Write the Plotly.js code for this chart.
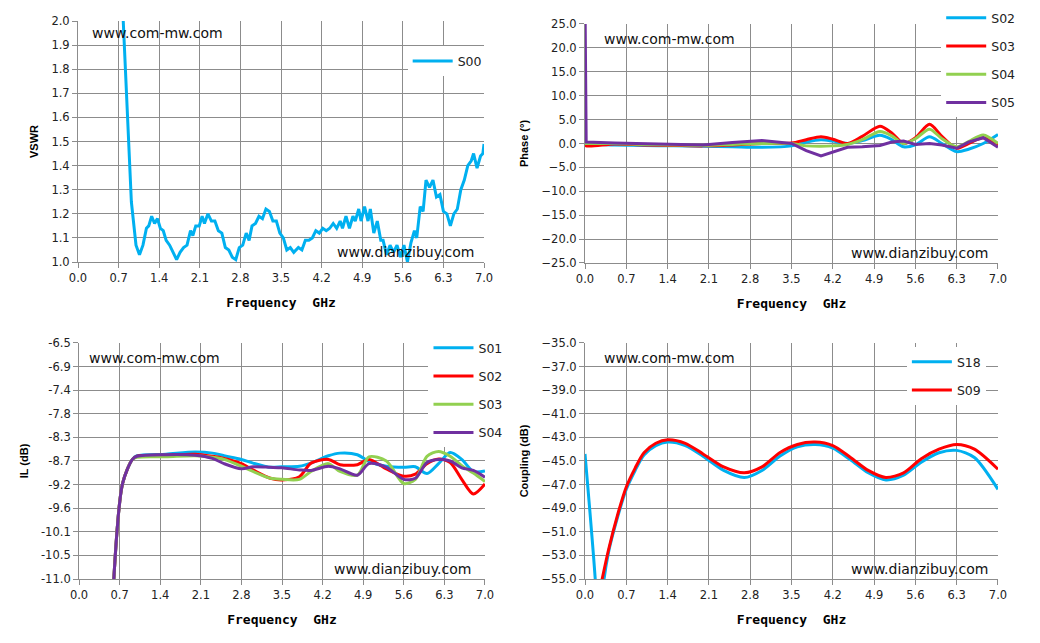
<!DOCTYPE html>
<html>
<head>
<meta charset="utf-8">
<script src="https://cdn.plot.ly/plotly-3.0.1.min.js"></script>
<style>body{margin:0;background:#fff}#chart{width:1040px;height:643px}</style>
</head>
<body>
<div id="chart"></div>
<script>
// VSWR (top left)
const vsFreq = [0.78,0.85,0.92,1.0,1.06,1.12,1.18,1.22,1.27,1.32,1.37,1.42,1.47,1.52,1.58,1.64,1.70,1.76,1.82,1.88,1.94,1.98,2.03,2.09,2.14,2.18,2.24,2.30,2.36,2.42,2.48,2.54,2.60,2.66,2.72,2.78,2.84,2.90,2.95,3.0,3.06,3.12,3.18,3.24,3.30,3.36,3.42,3.48,3.54,3.60,3.66,3.72,3.80,3.86,3.92,3.98,4.04,4.10,4.16,4.22,4.28,4.34,4.40,4.46,4.52,4.56,4.62,4.68,4.74,4.78,4.84,4.88,4.94,5.0,5.04,5.10,5.16,5.22,5.26,5.32,5.38,5.44,5.50,5.56,5.62,5.68,5.74,5.80,5.84,5.90,5.95,6.0,6.06,6.12,6.18,6.24,6.30,6.36,6.42,6.48,6.54,6.60,6.66,6.72,6.78,6.82,6.88,6.94,6.98,7.0];
const vsS00 = [2.0,1.6,1.25,1.07,1.03,1.07,1.14,1.15,1.19,1.16,1.18,1.14,1.13,1.09,1.07,1.04,1.01,1.04,1.06,1.07,1.13,1.11,1.15,1.15,1.19,1.16,1.20,1.17,1.17,1.13,1.12,1.06,1.05,1.02,1.01,1.06,1.07,1.12,1.09,1.15,1.16,1.19,1.18,1.22,1.21,1.17,1.17,1.12,1.10,1.05,1.06,1.04,1.06,1.05,1.09,1.09,1.10,1.13,1.12,1.14,1.13,1.14,1.16,1.14,1.17,1.14,1.19,1.14,1.19,1.17,1.22,1.17,1.23,1.17,1.22,1.12,1.17,1.09,1.09,1.03,1.07,1.04,1.07,1.02,1.07,1.00,1.08,1.13,1.10,1.23,1.21,1.34,1.31,1.34,1.27,1.28,1.21,1.20,1.15,1.20,1.22,1.30,1.34,1.40,1.42,1.45,1.39,1.44,1.45,1.49];

// Phase (top right)
const phFreq = [0,0.02,0.5,1,1.5,2,2.5,3,3.5,3.75,4,4.2,4.45,4.7,5,5.2,5.4,5.6,5.84,6.05,6.3,6.5,6.75,7.0];
const phS02 = [-0.3,-0.2,-0.3,-0.4,-0.5,-0.6,-0.7,-0.8,-0.5,0.3,0.8,0.5,0,0.6,1.7,0.8,-0.7,-0.3,1.4,0,-1.7,-1.2,0,1.9];
const phS03 = [0,-0.5,-0.1,-0.3,-0.4,-0.5,-0.3,0,0.1,0.8,1.4,0.9,0,1.5,3.6,2.2,0,1.2,4.0,1.5,-1.0,0,1.2,-0.3];
const phS04 = [0,0,0,-0.2,-0.3,-0.4,-0.2,0,0,-0.5,-0.6,-0.5,-0.2,0.8,2.5,1.6,0,1.0,3.0,1.0,-0.7,0.4,1.8,0];
const phS05 = [30,0.3,0.1,0,-0.2,-0.3,0.2,0.6,0,-1.5,-2.6,-1.8,-0.8,-0.7,-0.4,0.3,0.5,-0.2,0,-0.3,-1.0,0.3,1.2,-0.8];

// Insertion loss (bottom left)
const ilFreq = [0.6,0.75,0.92,1.0,1.5,2.0,2.3,2.5,2.8,3.0,3.3,3.5,3.8,4.0,4.3,4.5,4.8,5.0,5.3,5.6,5.8,6.0,6.2,6.4,6.6,6.8,7.0];
const ilS01 = [-11,-9.18,-8.72,-8.65,-8.62,-8.58,-8.6,-8.65,-8.72,-8.79,-8.87,-8.86,-8.85,-8.79,-8.65,-8.6,-8.63,-8.76,-8.85,-8.87,-8.86,-8.99,-8.8,-8.59,-8.72,-8.95,-8.94];
const ilS02 = [-11,-9.18,-8.72,-8.66,-8.64,-8.62,-8.66,-8.7,-8.8,-8.92,-9.08,-9.11,-9.05,-8.79,-8.72,-8.82,-8.82,-8.72,-8.9,-9.04,-9.0,-8.8,-8.71,-8.78,-9.1,-9.38,-9.19];
const ilS03 = [-11,-9.18,-8.72,-8.68,-8.67,-8.65,-8.68,-8.72,-8.85,-8.95,-9.08,-9.1,-9.1,-8.95,-8.8,-8.95,-9.02,-8.67,-8.75,-9.18,-9.1,-8.66,-8.57,-8.66,-8.84,-8.98,-9.14];
const ilS04 = [-11,-9.18,-8.72,-8.66,-8.63,-8.64,-8.7,-8.8,-8.9,-8.86,-8.87,-8.88,-8.92,-8.93,-8.85,-8.9,-9.02,-8.8,-8.87,-9.1,-9.08,-8.78,-8.72,-8.75,-8.88,-8.93,-9.06];
const ilTicks = [-6.5,-6.95,-7.4,-7.85,-8.3,-8.75,-9.2,-9.65,-10.1,-10.55,-11.0];
const ilTickText = ['-6.5','-6.9','-7.4','-7.8','-8.3','-8.7','-9.2','-9.6','-10.1','-10.5','-11.0'];

// Coupling (bottom right)
const cpFreqS18 = [0,0.18,0.24,0.3,0.4,0.55,0.7,0.85,1.0,1.2,1.4,1.7,2.0,2.35,2.7,3.0,3.3,3.6,3.9,4.2,4.5,4.8,5.1,5.4,5.7,6.0,6.3,6.6,7.0];
const cpS18 = [-44.4,-55.5,-62,-56,-52.7,-49.8,-47.4,-45.8,-44.5,-43.7,-43.4,-43.7,-44.6,-45.8,-46.4,-45.8,-44.6,-43.8,-43.6,-43.9,-44.9,-46.0,-46.6,-46.2,-45.1,-44.3,-44.1,-44.7,-47.4];
const cpFreqS09 = [0.27,0.4,0.55,0.7,0.85,1.0,1.2,1.4,1.7,2.0,2.35,2.7,3.0,3.3,3.6,3.9,4.2,4.5,4.8,5.1,5.4,5.7,6.0,6.3,6.6,7.0];
const cpS09 = [-55.5,-52.5,-49.6,-47.2,-45.6,-44.3,-43.5,-43.2,-43.5,-44.4,-45.5,-46.0,-45.5,-44.3,-43.6,-43.4,-43.7,-44.7,-45.8,-46.4,-46.0,-44.8,-44.0,-43.6,-44.0,-45.7];

const freqTicks = [0,0.7,1.4,2.1,2.8,3.5,4.2,4.9,5.6,6.3,7.0];

const CYAN = '#00b0f0', RED = '#ff0000', GREEN = '#92d050', PURPLE = '#7030a0';
const tickFont = { family: 'DejaVu Sans, Verdana, sans-serif', size: 11.5, color: '#222' };
const titleFont = { family: 'Liberation Sans, Arial, sans-serif', size: 11, color: '#000', weight: 'bold' };
const freqTitleFont = { family: 'DejaVu Sans Mono, monospace', size: 13, color: '#000', weight: 'bold' };

function line(x, y, name, color, xa, ya, legend, shape) {
  return { x, y, name, type: 'scatter', mode: 'lines', xaxis: xa, yaxis: ya, legend,
    legendgroup: name + legend, line: { color, width: 3, shape: shape || 'spline', smoothing: 0.8 } };
}

const traces = [
  line(vsFreq, vsS00, 'S00', CYAN, 'x', 'y', 'legend', 'linear'),
  line(phFreq, phS02, 'S02', CYAN, 'x2', 'y2', 'legend2'),
  line(phFreq, phS03, 'S03', RED, 'x2', 'y2', 'legend2'),
  line(phFreq, phS04, 'S04', GREEN, 'x2', 'y2', 'legend2'),
  line(phFreq, phS05, 'S05', PURPLE, 'x2', 'y2', 'legend2', 'linear'),
  line(ilFreq, ilS01, 'S01', CYAN, 'x3', 'y3', 'legend3'),
  line(ilFreq, ilS02, 'S02', RED, 'x3', 'y3', 'legend3'),
  line(ilFreq, ilS03, 'S03', GREEN, 'x3', 'y3', 'legend3'),
  line(ilFreq, ilS04, 'S04', PURPLE, 'x3', 'y3', 'legend3'),
  line(cpFreqS18, cpS18, 'S18', CYAN, 'x4', 'y4', 'legend4'),
  line(cpFreqS09, cpS09, 'S09', RED, 'x4', 'y4', 'legend4')
];

function xAxis(domain, anchor) {
  return { domain, anchor, range: [0, 7], tickvals: freqTicks, ticktext: freqTicks.map(v => v.toFixed(1)),
    showgrid: true, gridcolor: '#8c8c8c', gridwidth: 1, showline: true, linecolor: '#8c8c8c',
    ticks: 'outside', ticklen: 5, tickcolor: '#8c8c8c', tickfont: tickFont, zeroline: false,
    title: { text: 'Frequency  GHz', font: freqTitleFont, standoff: 14 } };
}
function yAxis(domain, anchor, range, dtick, title) {
  return { domain, anchor, range, dtick, tick0: range[0], tickformat: '.1f',
    showgrid: true, gridcolor: '#8c8c8c', gridwidth: 1, showline: true, linecolor: '#8c8c8c',
    ticks: 'outside', ticklen: 5, tickcolor: '#8c8c8c', tickfont: tickFont, zeroline: false,
    title: { text: title, font: titleFont, standoff: 10 } };
}

const legendBase = { bgcolor: '#fff', borderwidth: 0, font: { family: 'DejaVu Sans, Verdana, sans-serif', size: 12.5, color: '#222' },
  xanchor: 'left', yanchor: 'top', tracegroupgap: 9, itemwidth: 40 };

function mark(xref, yref, x, y, text, xanchor, yanchor) {
  return { xref: xref + ' domain', yref: yref + ' domain', x, y, text, showarrow: false, xanchor, yanchor,
    font: { family: 'DejaVu Sans, Verdana, sans-serif', size: 14, color: '#111' } };
}

const ilAxis = yAxis([0.0995, 0.4666], 'x3', [-11, -6.5], 0.45, 'IL (dB)');
ilAxis.tickvals = ilTicks; ilAxis.ticktext = ilTickText;

const layout = {
  width: 1040, height: 643, margin: { l: 0, r: 0, t: 0, b: 0 },
  paper_bgcolor: '#fff', plot_bgcolor: '#fff', showlegend: true,
  xaxis: xAxis([0.075, 0.4654], 'y'),
  yaxis: yAxis([0.5925, 0.9673], 'x', [1, 2], 0.1, 'VSWR'),
  xaxis2: xAxis([0.5625, 0.9596], 'y2'),
  yaxis2: yAxis([0.591, 0.9627], 'x2', [-25, 25], 5, 'Phase (°)'),
  xaxis3: xAxis([0.076, 0.4663], 'y3'),
  yaxis3: ilAxis,
  xaxis4: xAxis([0.5625, 0.9596], 'y4'),
  yaxis4: yAxis([0.0995, 0.4666], 'x4', [-55, -35], 2, 'Coupling (dB)'),
  legend: Object.assign({}, legendBase, { x: 0.392, y: 0.928 }),
  legend2: Object.assign({}, legendBase, { x: 0.905, y: 0.995 }),
  legend3: Object.assign({}, legendBase, { x: 0.412, y: 0.482 }),
  legend4: Object.assign({}, legendBase, { x: 0.872, y: 0.46 }),
  annotations: [
    mark('x', 'y', 0.03, 0.99, 'www.com-mw.com', 'left', 'top'),
    mark('x', 'y', 0.98, 0.0, 'www.dianzibuy.com', 'right', 'bottom'),
    mark('x2', 'y2', 0.04, 0.98, 'www.com-mw.com', 'left', 'top'),
    mark('x2', 'y2', 0.98, 0.0, 'www.dianzibuy.com', 'right', 'bottom'),
    mark('x3', 'y3', 0.02, 0.98, 'www.com-mw.com', 'left', 'top'),
    mark('x3', 'y3', 0.97, 0.0, 'www.dianzibuy.com', 'right', 'bottom'),
    mark('x4', 'y4', 0.04, 0.98, 'www.com-mw.com', 'left', 'top'),
    mark('x4', 'y4', 0.98, 0.0, 'www.dianzibuy.com', 'right', 'bottom')
  ]
};

Plotly.newPlot('chart', traces, layout, { displayModeBar: false, staticPlot: true });
</script>
</body>
</html>
